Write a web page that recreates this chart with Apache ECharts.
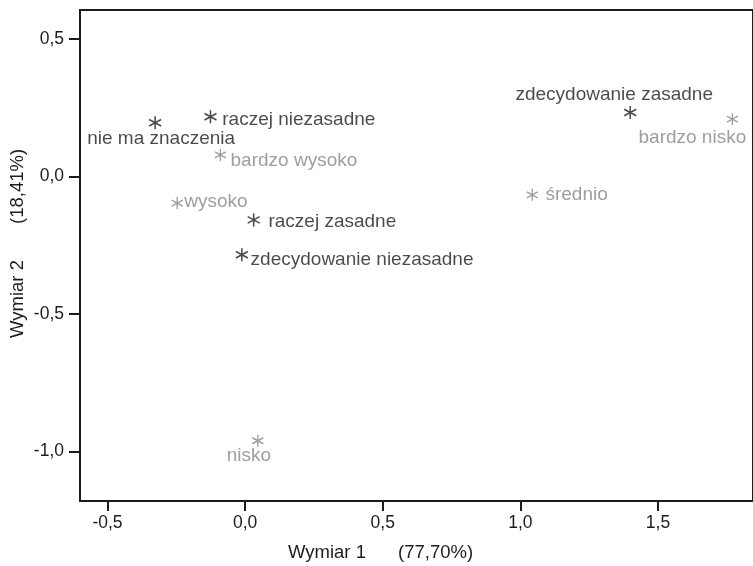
<!DOCTYPE html>
<html>
<head>
<meta charset="utf-8">
<script src="https://cdn.jsdelivr.net/npm/echarts@6/dist/echarts.min.js"></script>
<style>
  html, body { margin: 0; padding: 0; background: #fff; }
  #chart { width: 753px; height: 566px; }
</style>
</head>
<body>
<div id="chart"></div>
<script>
// Category names of the two variables in the correspondence map
const opinionNames = ['nie ma znaczenia', 'raczej niezasadne', 'zdecydowanie zasadne', 'raczej zasadne', 'zdecydowanie niezasadne'];
const opinionDim1 = [-0.327, -0.126, 1.399, 0.031, -0.012];
const opinionDim2 = [0.195, 0.217, 0.232, -0.158, -0.285];

const levelNames = ['bardzo wysoko', 'wysoko', 'średnio', 'bardzo nisko', 'nisko'];
const levelDim1 = [-0.090, -0.247, 1.043, 1.770, 0.046];
const levelDim2 = [0.078, -0.097, -0.067, 0.208, -0.961];

const xTicks = [-0.5, 0, 0.5, 1, 1.5];
const yTicks = [-1, -0.5, 0, 0.5];

const DARK = '#1f1b1c';
const GREY = '#868686';
const FONT = "'Liberation Sans', Arial, sans-serif";

// label placement for each point
const opinionLabel = [
  { position: 'bottom', distance: 0, offset: [6, -1] },
  { position: 'right', distance: 5, offset: [0, 3] },
  { position: 'top', distance: 1, offset: [-16, 0] },
  { position: 'right', distance: 8, offset: [0, 2] },
  { position: 'right', distance: 2, offset: [0, 5] }
];
const levelLabel = [
  { position: 'right', distance: 4, offset: [0, 6] },
  { position: 'right', distance: 1, offset: [0, -1] },
  { position: 'right', distance: 7, offset: [0, 0] },
  { position: 'bottom', distance: 2, offset: [-40, 0] },
  { position: 'bottom', distance: -1, offset: [-9, 0] }
];

const STAR = 'path://M0,-10L0,10M-8.66,-5L8.66,5M-8.66,5L8.66,-5';

function buildData(names, d1, d2, placements, color, size) {
  return names.map((n, i) => ({
    name: n,
    value: [d1[i], d2[i]],
    symbolSize: size,
    label: Object.assign({
      show: true,
      formatter: n,
      color: color,
      fontSize: 19,
      fontFamily: FONT
    }, placements[i])
  }));
}

const fmt = v => (Math.abs(v) < 1e-9 ? 0 : v).toFixed(1).replace('.', ',');

const chart = echarts.init(document.getElementById('chart'), null, { renderer: 'canvas' });
chart.setOption({
  animation: false,
  backgroundColor: '#fff',
  grid: {
    left: 80, top: 10, right: -3, bottom: 65,
    show: true, borderColor: DARK, borderWidth: 2, backgroundColor: 'transparent'
  },
  xAxis: {
    type: 'value', min: -0.6, max: 1.845,
    axisLine: { show: true, onZero: false, lineStyle: { color: DARK, width: 2 } },
    axisTick: { show: true, length: 10, lineStyle: { color: DARK, width: 2 }, customValues: xTicks },
    axisLabel: { customValues: xTicks, formatter: fmt, color: DARK, fontSize: 17.5, fontFamily: FONT, margin: 13 },
    splitLine: { show: false }
  },
  yAxis: {
    type: 'value', min: -1.18, max: 0.605,
    axisLine: { show: true, onZero: false, lineStyle: { color: DARK, width: 2 } },
    axisTick: { show: true, length: 11, lineStyle: { color: DARK, width: 2 }, customValues: yTicks },
    axisLabel: { customValues: yTicks, formatter: fmt, color: DARK, fontSize: 17.5, fontFamily: FONT, margin: 16 },
    splitLine: { show: false }
  },
  graphic: [
    { type: 'text', left: 288, top: 543, style: { text: 'Wymiar 1', fill: DARK, font: '18.5px ' + FONT } },
    { type: 'text', left: 398, top: 543, style: { text: '(77,70%)', fill: DARK, font: '18.5px ' + FONT } },
    { type: 'text', x: 8, y: 338, rotation: Math.PI / 2, style: { text: 'Wymiar 2', fill: DARK, font: '18.5px ' + FONT, textAlign: 'left', textVerticalAlign: 'top' } },
    { type: 'text', x: 8, y: 224, rotation: Math.PI / 2, style: { text: '(18,41%)', fill: DARK, font: '18.5px ' + FONT, textAlign: 'left', textVerticalAlign: 'top' } }
  ],
  series: [
    {
      type: 'scatter',
      symbol: STAR,
      itemStyle: { color: 'transparent', borderColor: DARK, borderWidth: 1.6 },
      data: buildData(opinionNames, opinionDim1, opinionDim2, opinionLabel, DARK, [12, 13])
    },
    {
      type: 'scatter',
      symbol: STAR,
      itemStyle: { color: 'transparent', borderColor: GREY, borderWidth: 1.4 },
      data: buildData(levelNames, levelDim1, levelDim2, levelLabel, GREY, [11, 12])
    }
  ]
});
</script>
</body>
</html>
